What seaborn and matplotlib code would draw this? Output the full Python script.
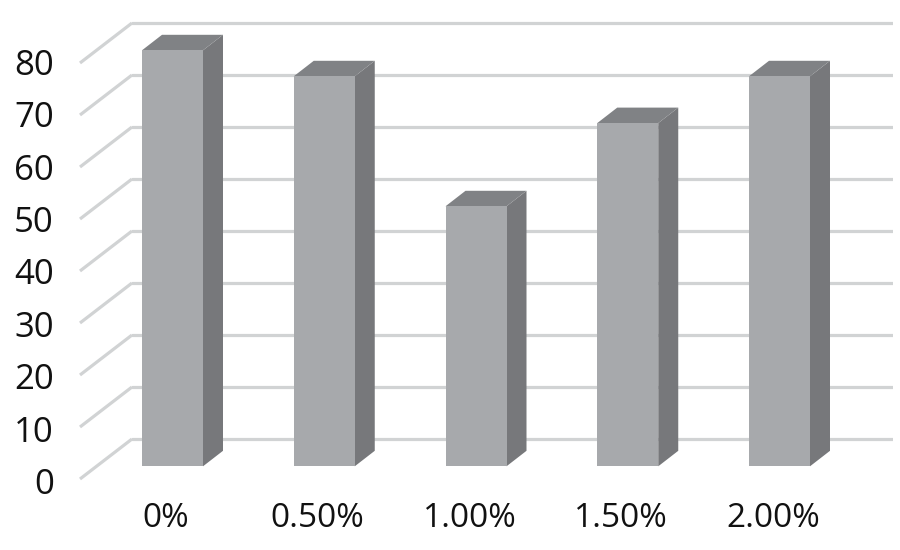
import matplotlib
matplotlib.use('Agg')
import matplotlib.pyplot as plt
from matplotlib.transforms import ScaledTranslation
import seaborn as sns

categories = ['0%', '0.50%', '1.00%', '1.50%', '2.00%']
values = [80, 75, 50, 66, 75]
y_ticks = [0, 10, 20, 30, 40, 50, 60, 70, 80]

FRONT = '#A7A9AC'
SIDE = '#77787B'
TOP = '#808285'
GRID = '#D1D3D4'
TEXT = '#111111'

# pixels per data unit, the fake 3d depth is worked out from these
PX_X = 151.75
PX_Y = 5.2

sns.set_style('white')
plt.rcParams['font.family'] = ['Open Sans', 'DejaVu Sans']

fig = plt.figure(figsize=(9, 5.5), dpi=100)
# axes is the back wall of the chart
ax = fig.add_axes([132 / 900, 1 - 445 / 550, (893 - 132) / 900, (445 - 10) / 550])
ax.set_axisbelow(True)

sns.barplot(x=categories, y=values, color=FRONT, saturation=1, width=61 / PX_X, ax=ax)

ax.set_xlim(-34 / PX_X, 727 / PX_X)
ax.set_ylim(-6 / PX_Y, 429 / PX_Y)
ax.set_yticks(y_ticks)
ax.set_yticklabels([])
ax.grid(True, axis='y', color=GRID, linewidth=2.3)
ax.grid(False, axis='x')
sns.despine(ax=ax, left=True, bottom=True)
ax.tick_params(axis='both', length=0)
ax.tick_params(axis='x', labelsize=24, labelcolor=TEXT, pad=41)

# left wall diagonals and the value labels in front of them
x_wall = ax.get_xlim()[0]
for v in y_ticks:
    ax.plot([x_wall - 52 / PX_X, x_wall], [v - 40 / PX_Y, v], color=GRID, linewidth=2.3,
            clip_on=False, solid_capstyle='butt', zorder=1)
    ax.annotate(str(v), xy=(x_wall, v), xytext=(-78, -42 + 0.04 * v), textcoords='offset pixels',
                ha='right', va='center_baseline', fontsize=25, color=TEXT)

# bars sit forward of the back wall, shift them and add side + top faces
shift = ScaledTranslation(6.5 / 100, -27.3 / 100, fig.dpi_scale_trans)
dx = 20 / PX_X
dy = 15.5 / PX_Y
for p in list(ax.patches):
    x0 = p.get_x()
    x1 = x0 + p.get_width()
    h = p.get_height()
    p.set_transform(ax.transData + shift)
    p.set_linewidth(0)
    p.set_clip_on(False)
    p.set_zorder(4)
    ax.fill([x1, x1 + dx, x1 + dx, x1], [0, dy, h + dy, h], color=SIDE, linewidth=0,
            transform=ax.transData + shift, clip_on=False, zorder=3)
    ax.fill([x0, x1, x1 + dx, x0 + dx], [h, h, h + dy, h + dy], color=TOP, linewidth=0,
            transform=ax.transData + shift, clip_on=False, zorder=3)

fig.savefig('out.png', dpi=100)
